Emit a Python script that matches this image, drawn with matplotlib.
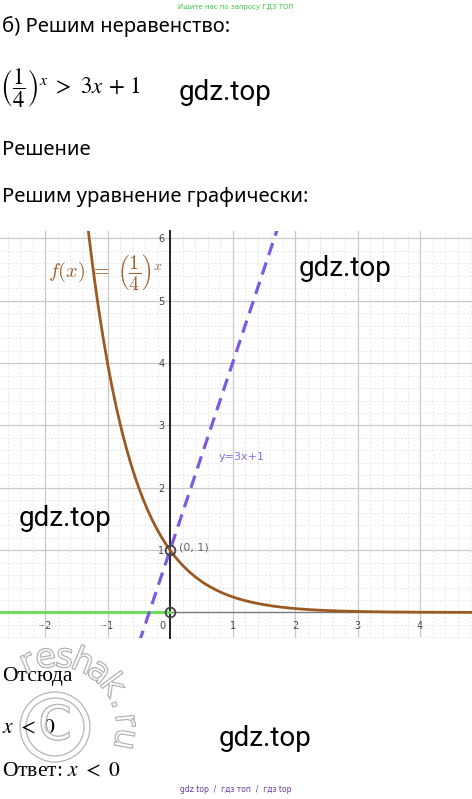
import numpy as np
import matplotlib
matplotlib.use("Agg")
import matplotlib.pyplot as plt
from matplotlib.ticker import MultipleLocator
from matplotlib.patches import Circle
import matplotlib.patheffects as pe

# graph data
x_ticks = [-2, -1, 1, 2, 3, 4]
y_ticks = [1, 2, 3, 4, 5, 6]
x_lim = [-2.72, 4.83]
y_lim = [-0.41, 6.12]
curve_x = np.linspace(-1.4, 4.9, 300)
curve_y = 0.25 ** curve_x
line_x = np.array([-0.6, 1.8])
line_y = 3 * line_x + 1
solution_x = [-3.0, 0.0]
solution_y = [0.0, 0.0]
points_x = [0, 0]
points_y = [0, 1]

W, H = 472, 799
fig = plt.figure(figsize=(W / 100, H / 100), dpi=100)
fig.patch.set_facecolor("white")

# ---- graph
ax = fig.add_axes([0, 1 - 638 / H, 1, 407 / H])
ax.set_xlim(*x_lim)
ax.set_ylim(*y_lim)
ax.xaxis.set_minor_locator(MultipleLocator(0.2))
ax.yaxis.set_minor_locator(MultipleLocator(0.2))
ax.set_xticks(x_ticks)
ax.set_yticks(y_ticks)
ax.grid(which="major", color="#c9c9c9", lw=0.9)
ax.grid(which="minor", color="#e6e6e6", lw=0.7, linestyle=(0, (2, 2)))
ax.set_axisbelow(True)
for s in ["top", "right"]:
    ax.spines[s].set_visible(False)
ax.spines["left"].set_position(("data", 0))
ax.spines["bottom"].set_position(("data", 0))
ax.spines["left"].set_color("#222222")
ax.spines["left"].set_linewidth(1.4)
ax.spines["bottom"].set_color("#777777")
ax.spines["bottom"].set_linewidth(1.0)
ax.tick_params(which="both", length=0)
ax.tick_params(axis="x", pad=6, labelsize=7, labelcolor="#444444")
ax.tick_params(axis="y", pad=4, labelsize=7, labelcolor="#444444")
ax.text(-0.08, -0.13, "0", fontsize=7, color="#444444", ha="right", va="top")

ax.plot(solution_x, solution_y, color="#66dd55", lw=2, zorder=3)
ax.plot(curve_x, curve_y, color="#9b5a23", lw=2, zorder=4)
ax.plot(line_x, line_y, color="#7b5ce0", lw=2.3, dashes=(4, 2.4), zorder=5)
ax.plot(points_x, points_y, "o", ms=7, mfc="none", mec="#444444", mew=1.3, zorder=6)
ax.text(0.14, 1.05, "(0, 1)", fontsize=8, color="#666666", va="center")
ax.text(0.78, 2.5, "y=3x+1", fontsize=8, color="#8a6ae0", va="center")
ax.text(-1.95, 5.47, r"$f(x)\;=\;\left(\dfrac{1}{4}\right)^x$", fontsize=14.5,
        color="#a0602e", va="center", math_fontfamily="cm")

# ---- overlay in pixel units
ov = fig.add_axes([0, 0, 1, 1], zorder=10)
ov.set_xlim(0, W)
ov.set_ylim(H, 0)
ov.axis("off")

sans = "Noto Sans"
ov.text(236, 7, "Ищите нас по запросу ГДЗ ТОП", fontsize=5, color="#3cc83c",
        ha="center", va="center", family="DejaVu Sans")
ov.text(2, 27, "б) Решим неравенство:", fontsize=14.5, ha="left", va="center", family=sans)
ov.text(0, 88, r"$\left(\dfrac{1}{4}\right)^x\ >\ 3x\,+\,1$", fontsize=16.5, ha="left",
        va="center", math_fontfamily="stix")
ov.text(2, 150, "Решение", fontsize=14.5, ha="left", va="center", family=sans)
ov.text(2, 197, "Решим уравнение графически:", fontsize=14.5, ha="left", va="center", family=sans)
ov.text(2, 677, "Отсюда", fontsize=15.5, ha="left", va="center", family="Liberation Serif")
ov.text(2, 727, r"$x\ <\ 0$", fontsize=15.5, ha="left", va="center", math_fontfamily="stix")
ov.text(2, 772, r"Ответ: $x\ <\ 0$", fontsize=15.5, ha="left", va="center",
        family="Liberation Serif", math_fontfamily="stix")
ov.text(236, 789, "gdz top  /  гдз топ  /  гдз top", fontsize=5.5, color="#6a3aa0",
        ha="center", va="center", family="DejaVu Sans")

# gdz.top watermarks
for gx, gy in [(225, 93), (345, 268), (65, 518), (265, 738)]:
    ov.text(gx, gy, "gdz.top", fontsize=20, ha="center", va="center", family="Roboto")

# reshak.ru arc watermark
outline = [pe.withStroke(linewidth=1.0, foreground="#a0a0a0")]
cx, cy, r = 56, 727, 70
letters = "reshak.ru"
angles = np.linspace(114, -10, len(letters))
for ch, a in zip(letters, angles):
    t = np.deg2rad(a)
    ov.text(cx + r * np.cos(t), cy - r * np.sin(t), ch, fontsize=24, rotation=a - 90,
            ha="center", va="center", color=(1, 1, 1, 0.55), path_effects=outline,
            family="DejaVu Sans")
for rr in [35, 29]:
    ov.add_patch(Circle((55, 727), rr, fill=False, ec="#b4b4b4", lw=0.9))
ov.text(55, 727, "C", fontsize=34, ha="center", va="center", color=(1, 1, 1, 0.5),
        path_effects=outline, family="DejaVu Sans")

fig.savefig("out.png", dpi=100)
